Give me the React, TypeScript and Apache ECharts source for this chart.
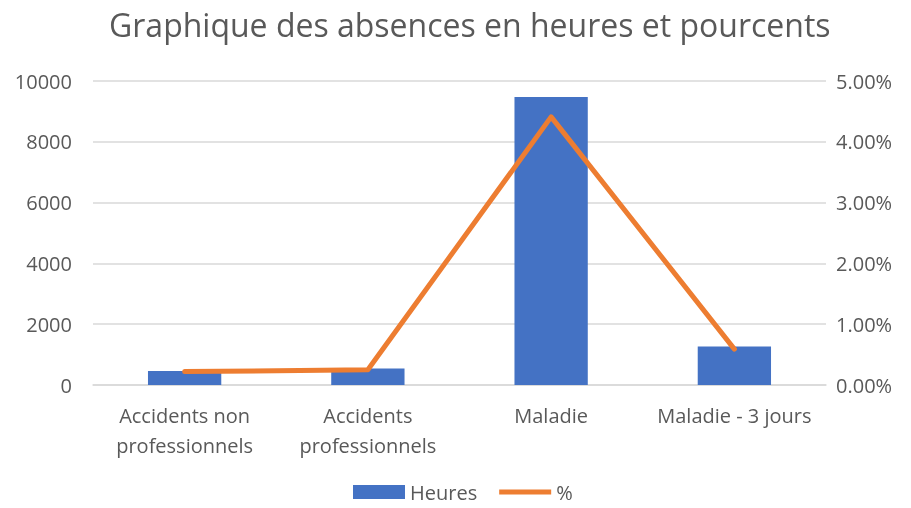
import React, { useEffect, useRef } from "react";
import * as echarts from "echarts";

const categories = ["Accidents non\nprofessionnels", "Accidents\nprofessionnels", "Maladie", "Maladie - 3 jours"];
const heures = [460, 540, 9470, 1270];
const pourcents = [0.22, 0.25, 4.41, 0.59];
const titleText = "Graphique des absences en heures et pourcents";

export default function App() {
  const ref = useRef<HTMLDivElement>(null);
  useEffect(() => {
    const chart = echarts.init(ref.current!, null, { renderer: "svg" });
    const font = "'Open Sans', 'Noto Sans', sans-serif";
    chart.setOption({
      animation: false,
      textStyle: { fontFamily: font },
      title: {
        text: titleText,
        left: 104,
        top: 3,
        textStyle: { fontSize: 32, fontWeight: "normal", color: "#595959", fontFamily: font },
      },
      legend: {
        top: 482,
        left: 353,
        padding: 0,
        itemGap: 22,
        itemWidth: 52,
        itemHeight: 14,
        textStyle: { fontSize: 20, lineHeight: 20, color: "#595959" },
        data: [
          { name: "Heures", icon: "rect" },
          { name: "%", icon: "path://M0,0 L10,0 L10,1 L0,1 Z" },
        ],
      },
      grid: { left: 93, right: 85, top: 81, bottom: 123, containLabel: false },
      xAxis: {
        type: "category",
        data: categories,
        axisTick: { show: false },
        axisLine: { lineStyle: { color: "#D9D9D9", width: 1.5 } },
        axisLabel: { fontSize: 20, color: "#595959", lineHeight: 30, margin: 15, interval: 0 },
      },
      yAxis: [
        {
          type: "value",
          min: 0,
          max: 10000,
          interval: 2000,
          axisLabel: { fontSize: 20, color: "#595959", margin: 21, formatter: (v: number) => String(v) },
          splitLine: { lineStyle: { color: "#D9D9D9", width: 1.5 } },
        },
        {
          type: "value",
          min: 0,
          max: 5,
          interval: 1,
          axisLabel: {
            fontSize: 20,
            color: "#595959",
            margin: 10,
            formatter: (v: number) => v.toFixed(2) + "%",
          },
          splitLine: { show: false },
        },
      ],
      series: [
        {
          name: "Heures",
          type: "bar",
          data: heures,
          barWidth: "40%",
          itemStyle: { color: "#4472C4" },
        },
        {
          name: "%",
          type: "line",
          yAxisIndex: 1,
          data: pourcents,
          symbol: "none",
          lineStyle: { color: "#ED7D31", width: 5, cap: "round", join: "round" },
          itemStyle: { color: "#ED7D31" },
        },
      ],
    });
    return () => chart.dispose();
  }, []);
  return <div ref={ref} style={{ position: "fixed", left: 0, top: 0, width: 911, height: 508 }} />;
}
